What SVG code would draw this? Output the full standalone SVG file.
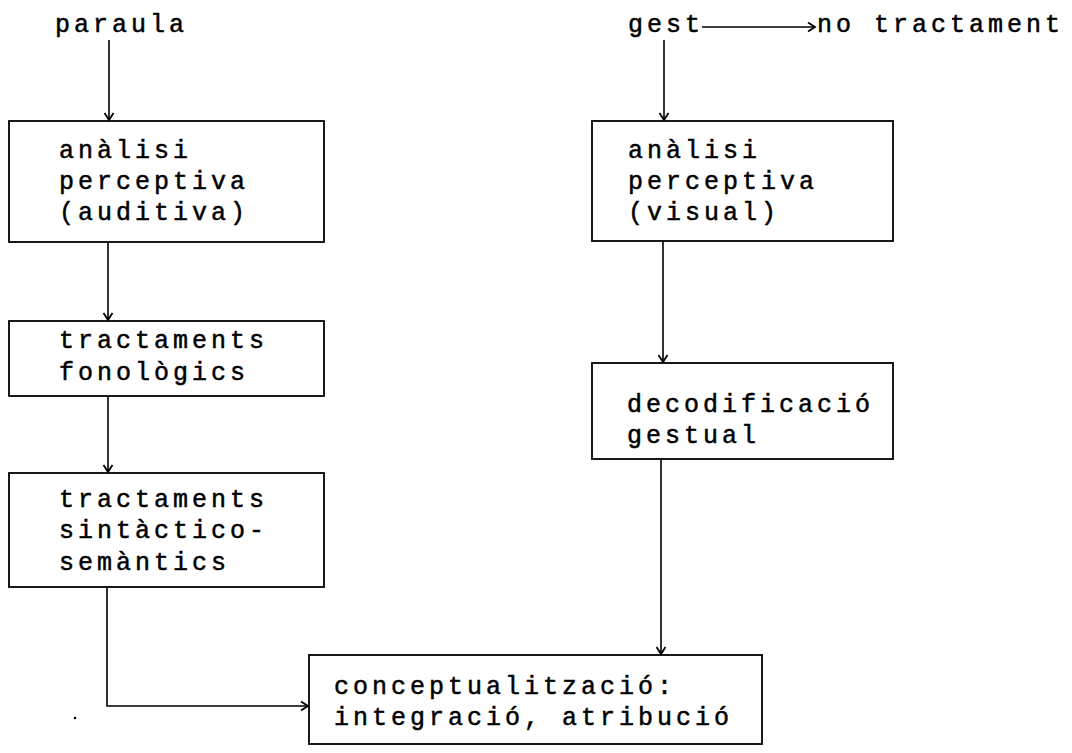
<svg xmlns="http://www.w3.org/2000/svg" width="1072" height="753" viewBox="0 0 1072 753">
<style>
text{font-family:"Liberation Mono","Courier New",monospace;font-size:25px;letter-spacing:4px;fill:#000;stroke:#000;stroke-width:0.5}
.box{fill:none;stroke:#000;stroke-width:1.8}
.conn{fill:none;stroke:#000;stroke-width:1.6}
</style>
<defs>
<marker id="arr" markerWidth="12" markerHeight="12" refX="10" refY="6" orient="auto" markerUnits="userSpaceOnUse">
<polyline points="3,1.5 10,6 3,10.5" fill="none" stroke="#000" stroke-width="1.8"/>
</marker>
</defs>
<g id="paraula"><text x="55" y="32">paraula</text></g>
<g id="gest"><text x="628" y="32">gest</text></g>
<g id="no-tractament"><text x="817" y="32">no tractament</text></g>
<g id="analisi-auditiva">
<rect class="box" x="9" y="121" width="315" height="121"/>
<text x="59" y="158">anàlisi</text>
<text x="59" y="189">perceptiva</text>
<text x="59" y="220">(auditiva)</text>
</g>
<g id="analisi-visual">
<rect class="box" x="592" y="121" width="301" height="120"/>
<text x="628" y="158">anàlisi</text>
<text x="628" y="189">perceptiva</text>
<text x="628" y="220">(visual)</text>
</g>
<g id="fonologics">
<rect class="box" x="9" y="321" width="315" height="75"/>
<text x="59" y="348">tractaments</text>
<text x="59" y="380">fonològics</text>
</g>
<g id="sintactico">
<rect class="box" x="9" y="473" width="315" height="114"/>
<text x="59" y="507">tractaments</text>
<text x="59" y="538">sintàctico-</text>
<text x="59" y="570">semàntics</text>
</g>
<g id="decodificacio">
<rect class="box" x="592" y="363" width="301" height="96"/>
<text x="627" y="412">decodificació</text>
<text x="627" y="443">gestual</text>
</g>
<g id="conceptualitzacio">
<rect class="box" x="309" y="655" width="453" height="89"/>
<text x="334" y="694">conceptualització:</text>
<text x="334" y="725">integració, atribució</text>
</g>
<g id="connectors">
<line class="conn" x1="109" y1="40" x2="109" y2="120" marker-end="url(#arr)"/>
<line class="conn" x1="664" y1="40" x2="664" y2="120" marker-end="url(#arr)"/>
<line class="conn" x1="702" y1="27" x2="815" y2="27" marker-end="url(#arr)"/>
<line class="conn" x1="108" y1="242" x2="108" y2="320" marker-end="url(#arr)"/>
<line class="conn" x1="108" y1="396" x2="108" y2="472" marker-end="url(#arr)"/>
<line class="conn" x1="663" y1="241" x2="663" y2="362" marker-end="url(#arr)"/>
<line class="conn" x1="661" y1="459" x2="661" y2="654" marker-end="url(#arr)"/>
<polyline class="conn" points="107,587 107,706 308,706" marker-end="url(#arr)"/>
</g>
<circle cx="75" cy="718" r="1.3" fill="#000"/>
</svg>
